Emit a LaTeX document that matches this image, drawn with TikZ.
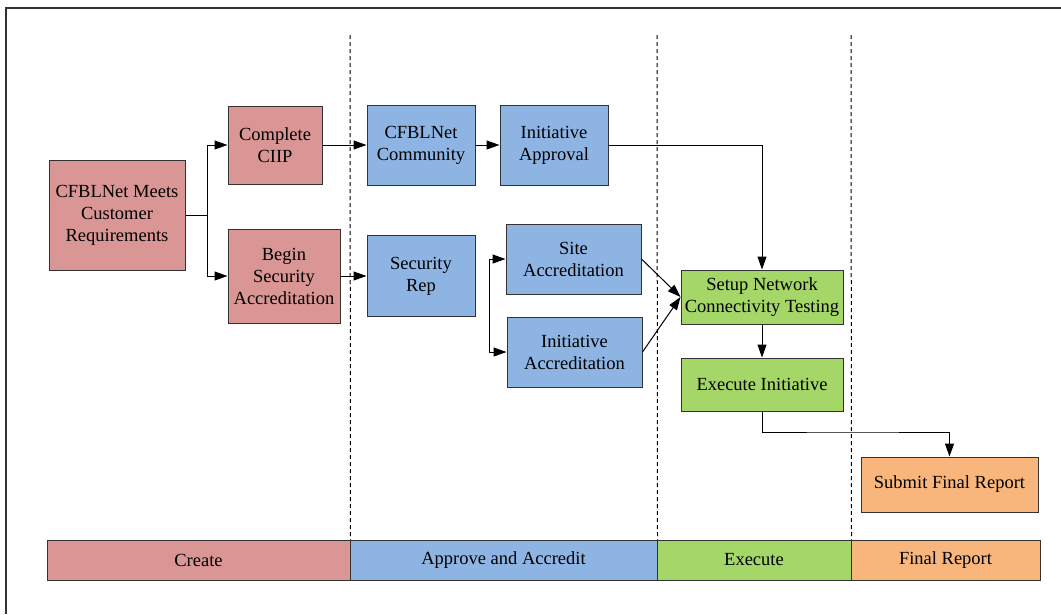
\documentclass[tikz,border=0pt]{standalone}
\usepackage{fontspec}
\newfontfamily\tms{Liberation Serif}
\usetikzlibrary{arrows.meta}
\definecolor{cred}{RGB}{217,150,148}
\definecolor{cblue}{RGB}{142,180,227}
\definecolor{cgreen}{RGB}{164,214,104}
\definecolor{corange}{RGB}{248,182,124}
\definecolor{cedge}{RGB}{50,50,50}
\begin{document}
\begin{tikzpicture}[x=1pt,y=-1pt,
  box/.style={draw=cedge, line width=1pt, align=center, inner sep=0pt, font=\tms\fontsize{18.5}{22}\selectfont},
  arr/.style={-{Triangle[length=13pt,width=9pt]}, line width=1pt},
  conn/.style={line width=1pt},
  sep/.style={line width=1pt, black, dash pattern=on 4pt off 3pt}]
\useasboundingbox (0,0) rectangle (1061,614);
\draw[line width=2pt, cedge] (6,614) -- (6,8) -- (1061,8);

% phase bar
\node[box, fill=cred, minimum width=303pt, minimum height=40pt] (create) at (198.5,560) {Create};
\node[box, fill=cblue, minimum width=307pt, minimum height=40pt] (approve) at (503.5,560) {Approve and Accredit};
\node[box, fill=cgreen, minimum width=194pt, minimum height=40pt] (execute) at (754,560) {Execute};
\node[box, fill=corange, minimum width=189pt, minimum height=40pt] (final) at (945.5,560) {Final Report};

% separators
\coordinate (d1) at (350,35);
\coordinate (d2) at (657,35);
\coordinate (d3) at (851,35);
\draw[sep] (d1) -- (create.north east);
\draw[sep] (d2) -- (approve.north east);
\draw[sep] (d3) -- (execute.north east);

% process nodes
\node[box, fill=cred, minimum width=136pt, minimum height=110pt] (meets) at (117,215) {CFBLNet Meets\\Customer\\Requirements};
\node[box, fill=cred, minimum width=94pt, minimum height=78pt] (complete) at (275,145) {Complete\\CIIP};
\node[box, fill=cred, minimum width=112pt, minimum height=94pt] (begin) at (284,276) {Begin\\Security\\Accreditation};
\node[box, fill=cblue, minimum width=108pt, minimum height=80pt] (community) at (421,145) {CFBLNet\\Community};
\node[box, fill=cblue, minimum width=108pt, minimum height=80pt] (approval) at (554,145) {Initiative\\Approval};
\node[box, fill=cblue, minimum width=108pt, minimum height=81pt] (secrep) at (421,276) {Security\\Rep};
\node[box, fill=cblue, minimum width=135pt, minimum height=70pt] (site) at (573.5,259) {Site\\Accreditation};
\node[box, fill=cblue, minimum width=135pt, minimum height=70pt] (initacc) at (574.5,352) {Initiative\\Accreditation};
\node[box, fill=cgreen, minimum width=162pt, minimum height=54pt] (setup) at (762,297) {Setup Network\\Connectivity Testing};
\node[box, fill=cgreen, minimum width=162pt, minimum height=53pt] (exec) at (762,384.5) {Execute Initiative};
\node[box, fill=corange, minimum width=177pt, minimum height=55pt] (submit) at (949.5,484.5) {Submit Final Report};

% connectors
\coordinate (s1) at (207,215);
\draw[conn] (meets.east) -- (s1);
\draw[arr] (s1) |- (complete.west);
\draw[arr] (s1) |- (begin.west);
\draw[arr] (complete.east) -- (community.west);
\draw[arr] (begin.east) -- (secrep.west);
\draw[arr] (community.east) -- (approval.west);
\draw[arr] (approval.east) -| (setup.north);
\coordinate (s2) at (489,305);
\draw[arr] (s2) |- (site.west);
\draw[arr] (s2) |- (initacc.west);
\draw[arr] (site.east) -- (setup.west);
\draw[arr] (initacc.east) -- (setup.west);
\draw[arr] (setup.south) -- (exec.north);
\coordinate (s3) at (850,432);
\draw[arr] (exec.south) |- (s3) -| (submit.north);
\end{tikzpicture}
\end{document}
